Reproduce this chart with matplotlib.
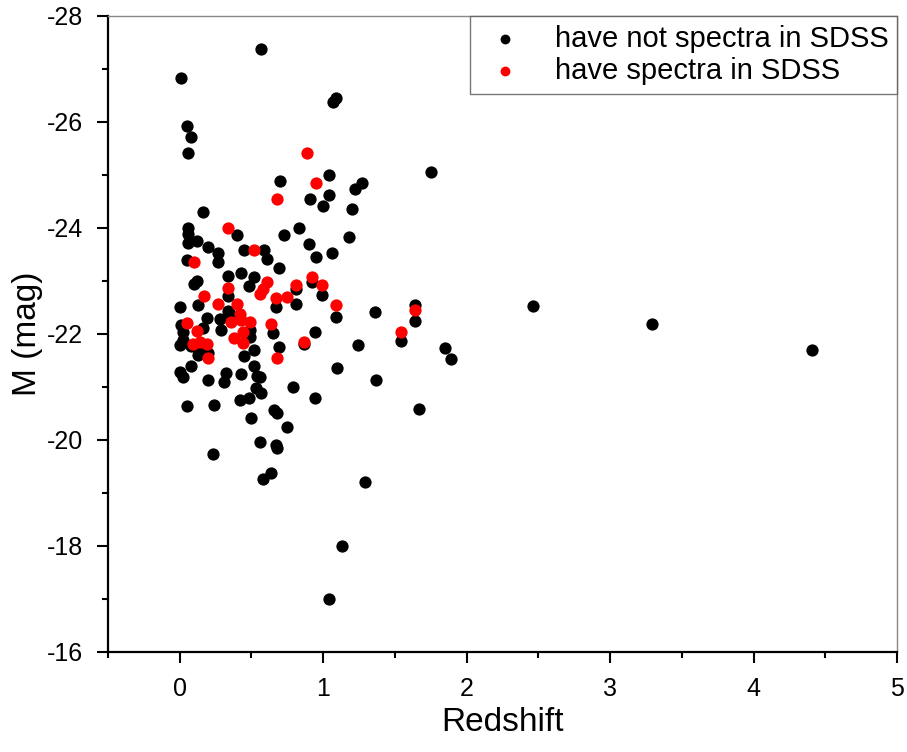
import matplotlib
matplotlib.use("Agg")
import matplotlib.pyplot as plt
from matplotlib.ticker import MultipleLocator

plt.rcParams['font.family'] = ['Liberation Sans', 'DejaVu Sans']
plt.rcParams['axes.unicode_minus'] = False

# objects without SDSS spectra (redshift, absolute magnitude)
z_nospec = [0.57, 0.01, 1.07, 1.09, 0.05, 0.08, 0.06, 0.70, 1.04, 0.91,
            1.04, 1.00, 0.16, 1.75, 1.22, 1.27, 1.20, 0.83, 0.73, 1.18,
            0.90, 0.95, 1.06, 0.59, 0.61, 0.69, 0.92, 0.99, 0.81, 0.67,
            0.81, 1.09, 1.36, 1.64, 1.64, 0.65, 0.94, 0.87, 1.54, 1.24,
            1.85, 1.89, 0.69, 1.10, 1.37, 0.79, 0.56, 0.57, 0.94, 1.67,
            0.66, 0.68, 0.75, 0.56, 0.67, 0.68, 0.64, 0.58, 1.29, 1.13,
            1.04, 0.00, 0.02, 0.08, 0.20, 0.32, 0.31, 0.43, 0.52, 0.54,
            0.53, 0.42, 0.48, 0.05, 0.24, 0.50, 0.23, 0.00, 0.08, 0.13,
            0.45, 0.52, 0.06, 0.06, 0.06, 0.12, 0.40, 0.20, 0.27, 0.27,
            0.45, 0.05, 0.34, 0.43, 0.52, 0.48, 0.12, 0.10, 0.13, 0.00,
            0.34, 0.34, 0.28, 0.36, 0.19, 0.16, 0.02, 0.02, 0.01, 0.29,
            0.49, 0.49, 0.20, 0.13, 2.46, 3.29, 4.41]
m_nospec = [-27.38, -26.82, -26.38, -26.45, -25.93, -25.72, -25.42, -24.88, -24.99, -24.54,
            -24.62, -24.42, -24.30, -25.05, -24.74, -24.84, -24.35, -23.99, -23.86, -23.82,
            -23.69, -23.45, -23.52, -23.59, -23.42, -23.25, -22.97, -22.73, -22.84, -22.50,
            -22.56, -22.31, -22.42, -22.54, -22.24, -22.01, -22.03, -21.80, -21.86, -21.79,
            -21.73, -21.52, -21.75, -21.35, -21.13, -21.00, -21.18, -20.88, -20.79, -20.58,
            -20.56, -20.50, -20.24, -19.96, -19.90, -19.84, -19.37, -19.26, -19.20, -18.00,
            -17.00, -21.28, -21.18, -21.39, -21.13, -21.26, -21.09, -21.24, -21.39, -21.20,
            -20.98, -20.75, -20.79, -20.64, -20.66, -20.41, -19.73, -21.79, -21.77, -21.60,
            -21.58, -21.69, -24.00, -23.89, -23.72, -23.76, -23.86, -23.63, -23.52, -23.35,
            -23.59, -23.40, -23.10, -23.14, -23.08, -22.91, -23.00, -22.95, -22.55, -22.50,
            -22.72, -22.44, -22.29, -22.35, -22.30, -22.12, -22.03, -21.88, -22.16, -22.07,
            -21.94, -22.07, -21.64, -21.73, -22.52, -22.19, -21.70]

# objects with SDSS spectra
z_spec = [0.89, 0.95, 0.68, 0.34, 0.52, 0.10, 0.92, 0.99, 0.81, 0.61,
          0.58, 0.56, 0.67, 0.75, 1.09, 1.64, 0.64, 0.87, 1.54, 0.68,
          0.17, 0.27, 0.34, 0.40, 0.42, 0.05, 0.12, 0.09, 0.14, 0.19,
          0.20, 0.36, 0.43, 0.49, 0.44, 0.38, 0.44]
m_spec = [-25.42, -24.84, -24.55, -24.00, -23.59, -23.35, -23.08, -22.92, -22.92, -22.97,
          -22.85, -22.76, -22.67, -22.69, -22.55, -22.46, -22.18, -21.84, -22.03, -21.54,
          -22.72, -22.57, -22.86, -22.57, -22.37, -22.20, -22.06, -21.80, -21.84, -21.80,
          -21.55, -22.22, -22.26, -22.22, -22.03, -21.92, -21.82]

fig = plt.figure(figsize=(9.07, 7.52), dpi=100)
ax = fig.add_axes([0.119, 0.133, 0.870, 0.846])

ax.scatter(z_nospec, m_nospec, s=78, c='black', linewidths=0,
           label='have not spectra in SDSS', zorder=3)
ax.scatter(z_spec, m_spec, s=78, c='#ff0000', linewidths=0,
           label='have spectra in SDSS', zorder=4)

ax.set_xlim(-0.5, 5)
ax.set_ylim(-16, -28)
ax.xaxis.set_major_locator(MultipleLocator(1))
ax.xaxis.set_minor_locator(MultipleLocator(0.5))
ax.yaxis.set_major_locator(MultipleLocator(2))
ax.yaxis.set_minor_locator(MultipleLocator(1))
ax.tick_params(which='major', direction='out', length=8, width=1.5, labelsize=18, pad=10)
ax.tick_params(which='minor', direction='out', length=4, width=1.5)

for s in ['left', 'bottom']:
    ax.spines[s].set_linewidth(1.6)
for s in ['top', 'right']:
    ax.spines[s].set_color('#888888')
    ax.spines[s].set_linewidth(1.0)

ax.set_xlabel('Redshift', fontsize=24, labelpad=4)
ax.set_ylabel('M (mag)', fontsize=24, labelpad=3)

leg = ax.legend(loc='upper right', fontsize=21, frameon=True, fancybox=False,
                edgecolor='#555555', markerscale=0.8, handletextpad=0.8,
                borderaxespad=0, borderpad=0.3, labelspacing=0.15,
                handlelength=1.8)
leg.get_frame().set_linewidth(1.0)

fig.savefig('out.png', dpi=100)
